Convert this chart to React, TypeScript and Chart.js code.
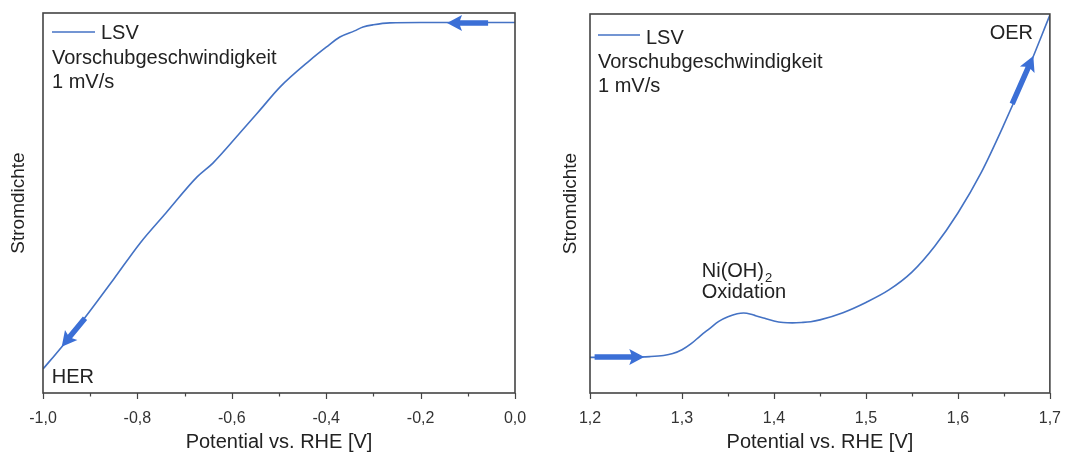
import React, { useEffect, useRef } from 'react';
import { Chart, registerables } from 'chart.js';

Chart.register(...registerables);

// ---------- data ----------
const herPotential = [-1.0, -0.96, -0.915, -0.85, -0.794, -0.74, -0.674, -0.64, -0.583, -0.54, -0.498, -0.434, -0.4, -0.371, -0.34, -0.322, -0.3, -0.265, -0.2, -0.1, 0.0];
const herCurrent = [6.3, 12.2, 19.2, 30.0, 39.5, 47.3, 56.8, 60.5, 68.4, 74.5, 80.5, 87.6, 91.0, 93.7, 95.3, 96.3, 96.9, 97.4, 97.5, 97.5, 97.5];
const herTicks = [-1.0, -0.8, -0.6, -0.4, -0.2, 0.0];
const herMinorTicks = [-0.9, -0.7, -0.5, -0.3, -0.1];

const oerPotential = [1.2, 1.225, 1.25, 1.265, 1.28, 1.29, 1.3, 1.31, 1.32, 1.33, 1.34, 1.35, 1.36, 1.367, 1.375, 1.38, 1.39, 1.4, 1.41, 1.42, 1.43, 1.44, 1.45, 1.475, 1.5, 1.525, 1.55, 1.575, 1.6, 1.625, 1.65, 1.675, 1.7];
const oerCurrent = [9.4, 9.4, 9.5, 9.6, 9.9, 10.4, 11.4, 13.0, 15.1, 17.0, 18.9, 20.1, 20.9, 21.1, 20.8, 20.4, 19.7, 19.0, 18.6, 18.5, 18.6, 18.8, 19.3, 21.2, 23.9, 27.2, 31.9, 38.8, 47.5, 58.0, 70.8, 84.7, 99.7];
const oerTicks = [1.2, 1.3, 1.4, 1.5, 1.6, 1.7];
const oerMinorTicks = [1.25, 1.35, 1.45, 1.55, 1.65];

const seriesLabel = 'LSV';
const noteLines = ['Vorschubgeschwindigkeit', '1 mV/s'];
const xTitle = 'Potential vs. RHE [V]';
const yTitle = 'Stromdichte';

// arrows in data coordinates: [fromX, fromY, toX, toY]
const herArrows = [
  [-0.057, 97.4, -0.144, 97.4],
  [-0.911, 19.7, -0.9604, 12.2],
];
const oerArrows = [
  [1.205, 9.5, 1.259, 9.5],
  [1.659, 76.3, 1.682, 88.9],
];

const FONT = "'Liberation Sans', Arial, sans-serif";
const LINE_COLOR = '#4472c4';
const ARROW_COLOR = '#3b6fd6';
const TEXT_COLOR = '#222';
const FRAME_COLOR = '#444';

function drawArrow(ctx: CanvasRenderingContext2D, x1: number, y1: number, x2: number, y2: number, shaft: number, headLen: number, headW: number) {
  const ang = Math.atan2(y2 - y1, x2 - x1);
  const len = Math.hypot(x2 - x1, y2 - y1);
  ctx.save();
  ctx.translate(x1, y1);
  ctx.rotate(ang);
  ctx.fillStyle = ARROW_COLOR;
  ctx.beginPath();
  ctx.moveTo(0, -shaft / 2);
  ctx.lineTo(len - headLen + 2, -shaft / 2);
  ctx.lineTo(len - headLen, -headW / 2);
  ctx.lineTo(len, 0);
  ctx.lineTo(len - headLen, headW / 2);
  ctx.lineTo(len - headLen + 2, shaft / 2);
  ctx.lineTo(0, shaft / 2);
  ctx.closePath();
  ctx.fill();
  ctx.restore();
}

type Note = { text: string; x: number; y: number; align?: CanvasTextAlign; sub?: string };

function makeDecor(cfg: {
  minor: number[];
  major: number[];
  arrows: number[][];
  legend: { lineX0: number; lineX1: number; lineY: number; labelX: number; labelY: number; noteX: number; noteY: number[] };
  notes: Note[];
}) {
  return {
    id: 'decor',
    afterDraw(chart: any) {
      const { ctx, chartArea: a, scales } = chart;
      const xs = scales.x;
      const ys = scales.y;
      ctx.save();
      // frame
      ctx.strokeStyle = FRAME_COLOR;
      ctx.lineWidth = 1.6;
      ctx.strokeRect(a.left, a.top, a.right - a.left, a.bottom - a.top);
      // ticks
      ctx.lineWidth = 1.2;
      cfg.major.forEach((v) => {
        const px = Math.round(xs.getPixelForValue(v)) + 0.5;
        ctx.beginPath();
        ctx.moveTo(px, a.bottom);
        ctx.lineTo(px, a.bottom + 6);
        ctx.stroke();
      });
      cfg.minor.forEach((v) => {
        const px = Math.round(xs.getPixelForValue(v)) + 0.5;
        ctx.beginPath();
        ctx.moveTo(px, a.bottom);
        ctx.lineTo(px, a.bottom + 3.5);
        ctx.stroke();
      });
      // arrows
      cfg.arrows.forEach(([fx, fy, tx, ty]) => {
        drawArrow(ctx, xs.getPixelForValue(fx), ys.getPixelForValue(fy), xs.getPixelForValue(tx), ys.getPixelForValue(ty), 5.5, 15, 16);
      });
      // legend
      const L = cfg.legend;
      ctx.strokeStyle = LINE_COLOR;
      ctx.lineWidth = 1.5;
      ctx.beginPath();
      ctx.moveTo(a.left + L.lineX0, a.top + L.lineY);
      ctx.lineTo(a.left + L.lineX1, a.top + L.lineY);
      ctx.stroke();
      ctx.fillStyle = TEXT_COLOR;
      ctx.font = `20px ${FONT}`;
      ctx.textBaseline = 'alphabetic';
      ctx.textAlign = 'left';
      ctx.fillText(seriesLabel, a.left + L.labelX, a.top + L.labelY);
      noteLines.forEach((t, i) => ctx.fillText(t, a.left + L.noteX, a.top + L.noteY[i]));
      // notes
      cfg.notes.forEach((n) => {
        const px = xs.getPixelForValue(n.x);
        const py = ys.getPixelForValue(n.y);
        ctx.font = `20px ${FONT}`;
        ctx.textAlign = n.align || 'left';
        ctx.fillText(n.text, px, py);
        if (n.sub) {
          const w = ctx.measureText(n.text).width;
          ctx.font = `13px ${FONT}`;
          ctx.textAlign = 'left';
          ctx.fillText(n.sub, px + w + 1, py + 5);
        }
      });
      ctx.restore();
    },
  };
}

function buildConfig(opts: {
  potential: number[];
  current: number[];
  min: number;
  max: number;
  ticks: number[];
  minor: number[];
  padTop: number;
  padRight: number;
  yWidth: number;
  yTitlePad: number;
  arrows: number[][];
  legend: any;
  notes: Note[];
}): any {
  return {
    type: 'scatter',
    data: {
      datasets: [
        {
          label: seriesLabel,
          data: opts.potential.map((p, i) => ({ x: p, y: opts.current[i] })),
          showLine: true,
          borderColor: LINE_COLOR,
          backgroundColor: LINE_COLOR,
          borderWidth: 1.6,
          pointRadius: 0,
          cubicInterpolationMode: 'monotone',
          fill: false,
        },
      ],
    },
    options: {
      animation: false,
      responsive: false,
      events: [],
      layout: { padding: { top: opts.padTop, right: opts.padRight, left: 0, bottom: 0 } },
      plugins: { legend: { display: false }, tooltip: { enabled: false } },
      scales: {
        x: {
          type: 'linear',
          min: opts.min,
          max: opts.max,
          afterBuildTicks: (s: any) => {
            s.ticks = opts.ticks.map((v) => ({ value: v }));
          },
          grid: { display: false },
          border: { display: false },
          ticks: {
            font: { family: FONT, size: 16 },
            color: '#333',
            padding: 8,
            maxRotation: 0,
            minRotation: 0,
            autoSkip: false,
            callback: (v: any) => Number(v).toFixed(1).replace('.', ','),
          },
          title: {
            display: true,
            text: xTitle,
            font: { family: FONT, size: 20, lineHeight: 1 },
            color: TEXT_COLOR,
            padding: { top: 0, bottom: 0 },
          },
          afterFit: (s: any) => {
            s.height = 59;
          },
        },
        y: {
          type: 'linear',
          min: 0,
          max: 100,
          ticks: { display: false },
          grid: { display: false },
          border: { display: false },
          title: {
            display: true,
            text: yTitle,
            font: { family: FONT, size: 19, lineHeight: 1 },
            color: TEXT_COLOR,
            padding: { top: opts.yTitlePad, bottom: 0 },
          },
          afterFit: (s: any) => {
            s.width = opts.yWidth;
          },
        },
      },
    },
    plugins: [
      makeDecor({ minor: opts.minor, major: opts.ticks, arrows: opts.arrows, legend: opts.legend, notes: opts.notes }),
    ],
  };
}

function ChartBox({ width, config }: { width: number; config: any }) {
  const ref = useRef<HTMLCanvasElement | null>(null);
  useEffect(() => {
    if (!ref.current) return;
    const chart = new Chart(ref.current, config);
    return () => chart.destroy();
  }, []);
  return <canvas ref={ref} width={width} height={452} style={{ display: 'block', width, height: 452 }} />;
}

export default function App() {
  const left = buildConfig({
    potential: herPotential,
    current: herCurrent,
    min: -1,
    max: 0,
    ticks: herTicks,
    minor: herMinorTicks,
    padTop: 13,
    padRight: 20,
    yWidth: 43,
    yTitlePad: 9,
    arrows: herArrows,
    legend: { lineX0: 9, lineX1: 52, lineY: 19, labelX: 58, labelY: 26, noteX: 9, noteY: [51, 75] },
    notes: [{ text: 'HER', x: -0.9816, y: 2.6 }],
  });
  const right = buildConfig({
    potential: oerPotential,
    current: oerCurrent,
    min: 1.2,
    max: 1.7,
    ticks: oerTicks,
    minor: oerMinorTicks,
    padTop: 14,
    padRight: 14,
    yWidth: 55,
    yTitlePad: 26,
    arrows: oerArrows,
    legend: { lineX0: 8, lineX1: 50, lineY: 21, labelX: 56, labelY: 30, noteX: 8, noteY: [54, 78] },
    notes: [
      { text: 'OER', x: 1.6817, y: 93.4, align: 'right' },
      { text: 'Ni(OH)', x: 1.3215, y: 30.5, sub: '2' },
      { text: 'Oxidation', x: 1.3215, y: 25.0 },
    ],
  });
  return (
    <div style={{ position: 'absolute', left: 0, top: 0, width: 1069, height: 452, background: '#fff', display: 'flex' }}>
      <ChartBox width={535} config={left} />
      <ChartBox width={534} config={right} />
    </div>
  );
}
